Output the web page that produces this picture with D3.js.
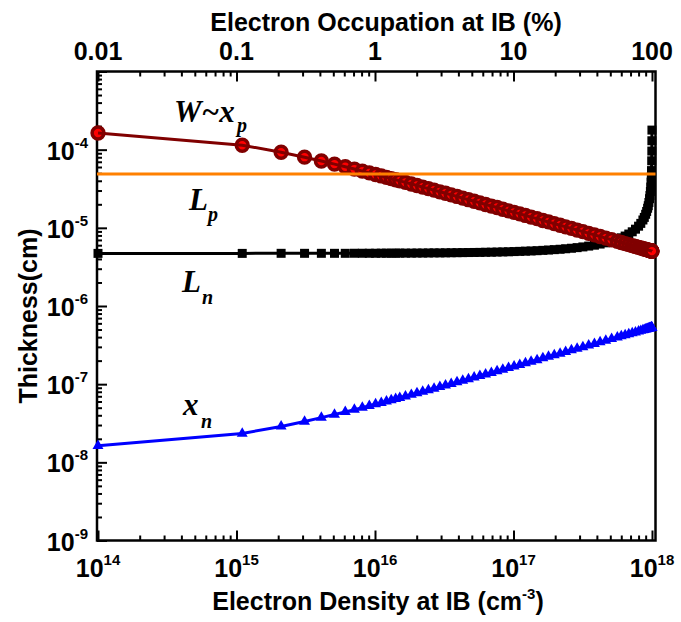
<!DOCTYPE html>
<html>
<head>
<meta charset="utf-8">
<script src="https://cdn.jsdelivr.net/npm/d3@7"></script>
<style>
  body { margin: 0; background: #fff; }
  text { font-family: "Liberation Sans", Arial, sans-serif; font-weight: bold; }
  .lbl { font-family: "Liberation Serif", "Times New Roman", serif; font-style: italic; font-weight: bold; }
</style>
</head>
<body>
<svg id="chart" width="681" height="622"></svg>
<script>
// Electron density at the intermediate band (cm^-3)
const density = [
  1e14, 1.1e15, 2.1e15, 3.1e15, 4.1e15, 5.1e15, 6.1e15, 7.1e15, 8.1e15, 9.1e15,
  1.01e16, 1.11e16, 1.21e16, 1.31e16, 1.41e16, 1.51e16,
  1.66e16, 1.83e16, 2.01e16, 2.21e16, 2.43e16, 2.67e16, 2.94e16, 3.23e16, 3.55e16, 3.91e16,
  4.3e16, 4.73e16, 5.2e16, 5.72e16, 6.29e16, 6.92e16, 7.61e16, 8.37e16, 9.21e16,
  1.01e17, 1.11e17, 1.22e17, 1.34e17, 1.48e17, 1.63e17, 1.79e17, 1.97e17,
  2.17e17, 2.38e17, 2.62e17, 2.88e17, 3.17e17, 3.49e17, 3.84e17, 4.22e17, 4.64e17, 5.11e17, 5.62e17,
  6.0e17, 6.4e17, 6.8e17, 7.2e17, 7.6e17, 8.0e17, 8.3e17, 8.6e17, 8.8e17, 9.0e17,
  9.15e17, 9.3e17, 9.4e17, 9.5e17, 9.6e17, 9.67e17, 9.74e17, 9.8e17, 9.85e17, 9.89e17,
  9.92e17, 9.95e17, 9.97e17, 9.98e17, 9.99e17
];

// Depletion width W ~ x_p (cm)
const widthW = [
  1.633e-4, 1.140e-4, 9.27e-5, 8.01e-5, 7.16e-5, 6.53e-5, 6.04e-5, 5.65e-5, 5.32e-5, 5.05e-5,
  4.81e-5, 4.61e-5, 4.42e-5, 4.26e-5, 4.12e-5, 3.99e-5,
  3.81e-5, 3.64e-5, 3.48e-5, 3.32e-5, 3.17e-5, 3.03e-5, 2.89e-5, 2.77e-5, 2.64e-5, 2.52e-5,
  2.40e-5, 2.29e-5, 2.19e-5, 2.09e-5, 1.99e-5, 1.90e-5, 1.82e-5, 1.73e-5, 1.65e-5,
  1.58e-5, 1.51e-5, 1.44e-5, 1.37e-5, 1.31e-5, 1.24e-5, 1.19e-5, 1.13e-5,
  1.08e-5, 1.03e-5, 9.82e-6, 9.37e-6, 8.93e-6, 8.51e-6, 8.12e-6, 7.74e-6, 7.38e-6, 7.04e-6, 6.71e-6,
  6.49e-6, 6.29e-6, 6.10e-6, 5.93e-6, 5.77e-6, 5.63e-6, 5.52e-6, 5.43e-6, 5.36e-6, 5.30e-6,
  5.26e-6, 5.22e-6, 5.19e-6, 5.16e-6, 5.14e-6, 5.12e-6, 5.10e-6, 5.08e-6, 5.07e-6, 5.06e-6,
  5.05e-6, 5.05e-6, 5.04e-6, 5.04e-6, 5.03e-6
];

// Electron diffusion length L_n (cm)
const lengthLn = [
  4.71e-6, 4.71e-6, 4.72e-6, 4.72e-6, 4.72e-6, 4.72e-6, 4.72e-6, 4.73e-6, 4.73e-6, 4.73e-6,
  4.73e-6, 4.74e-6, 4.74e-6, 4.74e-6, 4.74e-6, 4.75e-6,
  4.75e-6, 4.75e-6, 4.76e-6, 4.76e-6, 4.77e-6, 4.78e-6, 4.78e-6, 4.79e-6, 4.80e-6, 4.81e-6,
  4.82e-6, 4.83e-6, 4.84e-6, 4.85e-6, 4.87e-6, 4.88e-6, 4.90e-6, 4.92e-6, 4.94e-6,
  4.97e-6, 5.00e-6, 5.03e-6, 5.06e-6, 5.10e-6, 5.15e-6, 5.20e-6, 5.26e-6,
  5.32e-6, 5.40e-6, 5.48e-6, 5.58e-6, 5.70e-6, 5.84e-6, 6.00e-6, 6.20e-6, 6.43e-6, 6.74e-6, 7.12e-6,
  7.45e-6, 7.85e-6, 8.33e-6, 8.90e-6, 9.61e-6, 1.05e-5, 1.14e-5, 1.26e-5, 1.36e-5, 1.49e-5,
  1.62e-5, 1.78e-5, 1.92e-5, 2.11e-5, 2.36e-5, 2.59e-5, 2.92e-5, 3.33e-5, 3.85e-5, 4.49e-5,
  5.4e-5, 7.2e-5, 9.6e-5, 1.30e-4, 1.78e-4
];

// n-side depletion depth x_n (cm)
const depthXn = [
  1.63e-8, 2.34e-8, 2.88e-8, 3.33e-8, 3.73e-8, 4.09e-8, 4.42e-8, 4.73e-8, 5.01e-8, 5.29e-8,
  5.55e-8, 5.79e-8, 6.03e-8, 6.26e-8, 6.48e-8, 6.69e-8,
  7.00e-8, 7.33e-8, 7.67e-8, 8.03e-8, 8.41e-8, 8.80e-8, 9.22e-8, 9.65e-8, 1.01e-7, 1.06e-7,
  1.11e-7, 1.16e-7, 1.22e-7, 1.28e-7, 1.34e-7, 1.40e-7, 1.47e-7, 1.54e-7, 1.62e-7,
  1.69e-7, 1.77e-7, 1.86e-7, 1.95e-7, 2.04e-7, 2.15e-7, 2.25e-7, 2.36e-7,
  2.47e-7, 2.59e-7, 2.72e-7, 2.85e-7, 2.99e-7, 3.13e-7, 3.29e-7, 3.45e-7, 3.61e-7, 3.79e-7, 3.98e-7,
  4.11e-7, 4.24e-7, 4.37e-7, 4.50e-7, 4.62e-7, 4.74e-7, 4.83e-7, 4.92e-7, 4.97e-7, 5.03e-7,
  5.07e-7, 5.11e-7, 5.14e-7, 5.17e-7, 5.20e-7, 5.21e-7, 5.23e-7, 5.25e-7, 5.26e-7, 5.27e-7,
  5.28e-7, 5.29e-7, 5.29e-7, 5.30e-7, 5.30e-7
];

// Hole diffusion length L_p (cm), constant
const lengthLp = 4.9e-5;

// Axis ticks
const bottomTicks = [1e14, 1e15, 1e16, 1e17, 1e18];
const bottomExp = ["14", "15", "16", "17", "18"];
const topTicks = [0.01, 0.1, 1, 10, 100];
const topLabels = ["0.01", "0.1", "1", "10", "100"];
const leftTicks = [1e-4, 1e-5, 1e-6, 1e-7, 1e-8, 1e-9];
const leftExp = ["-4", "-5", "-6", "-7", "-8", "-9"];

const svg = d3.select("#chart");
const L = 97, R = 655.5, T = 71.5, B = 540.5;

const x = d3.scaleLog().domain([9.835e13, 1.06e18]).range([L, R]);
// occupation (%) of the 1e18 cm^-3 band states, on the same pixel range
const xTop = d3.scaleLog().domain(x.domain().map(d => d / 1e16)).range([L, R]);
const y = d3.scaleLog().domain([1e-9, 1e-3]).range([B, T]);

// 2..9 multiples of each decade that fall inside a scale's domain
function minorTicks(scale, lo, hi) {
  const [a, b] = d3.extent(scale.domain());
  const out = [];
  for (let e = lo; e <= hi; e++)
    for (let m = 2; m <= 9; m++) {
      const v = m * Math.pow(10, e);
      if (v > a && v < b) out.push(v);
    }
  return out;
}

// inward tick marks drawn with d3 axes
function inward(g) {
  g.select(".domain").remove();
  g.selectAll(".tick line").attr("stroke", "#000").attr("stroke-width", 2);
  g.selectAll(".tick text").remove();
}
const axes = svg.append("g");
axes.append("g").attr("transform", `translate(0,${B})`)
  .call(d3.axisBottom(x).tickValues(minorTicks(x, 14, 17)).tickSizeInner(-5).tickSizeOuter(0)).call(inward);
axes.append("g").attr("transform", `translate(0,${B})`)
  .call(d3.axisBottom(x).tickValues(bottomTicks).tickSizeInner(-10).tickSizeOuter(0)).call(inward);
axes.append("g").attr("transform", `translate(0,${T})`)
  .call(d3.axisTop(xTop).tickValues(minorTicks(xTop, -2, 1)).tickSizeInner(-5).tickSizeOuter(0)).call(inward);
axes.append("g").attr("transform", `translate(0,${T})`)
  .call(d3.axisTop(xTop).tickValues(topTicks).tickSizeInner(-10).tickSizeOuter(0)).call(inward);
axes.append("g").attr("transform", `translate(${L},0)`)
  .call(d3.axisLeft(y).tickValues(minorTicks(y, -9, -4)).tickSizeInner(-5).tickSizeOuter(0)).call(inward);
axes.append("g").attr("transform", `translate(${L},0)`)
  .call(d3.axisLeft(y).tickValues(leftTicks.concat([1e-3])).tickSizeInner(-10).tickSizeOuter(0)).call(inward);

// bottom tick labels
const bl = svg.append("g").selectAll("text").data(bottomTicks).join("text")
  .attr("x", d => x(d)).attr("y", 577).attr("text-anchor", "middle").style("font-size", "25px");
bl.append("tspan").text("10");
bl.append("tspan").attr("dy", -12).style("font-size", "15px").text((d, i) => bottomExp[i]);

// top tick labels
svg.append("g").selectAll("text").data(topTicks).join("text")
  .attr("x", d => xTop(d)).attr("y", 60).attr("text-anchor", "middle")
  .style("font-size", "25px").text((d, i) => topLabels[i]);

// left tick labels
const ll = svg.append("g").selectAll("text").data(leftTicks).join("text")
  .attr("x", L - 9).attr("y", d => y(d) + 10).attr("text-anchor", "end")
  .style("font-size", "25px");
ll.append("tspan").text("10");
ll.append("tspan").attr("dy", -12).style("font-size", "15px").text((d, i) => leftExp[i]);

// frame
svg.append("rect").attr("x", L).attr("y", T).attr("width", R - L).attr("height", B - T)
  .attr("fill", "none").attr("stroke", "#000").attr("stroke-width", 2.5);

// axis titles
const bt = svg.append("text").attr("x", 378).attr("y", 610).attr("text-anchor", "middle")
  .style("font-size", "25px");
bt.append("tspan").text("Electron Density at IB (cm");
bt.append("tspan").attr("dy", -11).style("font-size", "15px").text("-3");
bt.append("tspan").attr("dy", 11).text(")");

svg.append("text").attr("x", 386).attr("y", 31).attr("text-anchor", "middle")
  .style("font-size", "25px").text("Electron Occupation at IB (%)");

svg.append("text").attr("transform", "translate(37,316) rotate(-90)").attr("text-anchor", "middle")
  .style("font-size", "25px").text("Thickness(cm)");

// data series
const plot = svg.append("g");
const pts = (vals) => density.map((d, i) => [d, vals[i]]);
const line = d3.line().x(d => x(d[0])).y(d => y(d[1]));

function series(vals, color, lineW, symbol, size, fill, stroke, strokeW, lineOnTop) {
  const g = plot.append("g");
  const data = pts(vals);
  const drawLine = () => g.append("path").datum(data).attr("d", line)
    .attr("fill", "none").attr("stroke", color).attr("stroke-width", lineW);
  if (!lineOnTop) drawLine();
  g.selectAll("path.m").data(data).join("path").attr("class", "m")
    .attr("transform", d => `translate(${x(d[0])},${y(d[1])})`)
    .attr("d", d3.symbol().type(symbol).size(size))
    .attr("fill", fill).attr("stroke", stroke).attr("stroke-width", strokeW);
  if (lineOnTop) drawLine();
}

series(lengthLn, "#000", 3, d3.symbolSquare, 81, "#000", "none", 0, false);
series(widthW, "#800000", 3, d3.symbolCircle, 110, "#ff0000", "#800000", 3.5, true);
series(depthXn, "#0000ff", 3, d3.symbolTriangle, 52, "#0000ff", "none", 0, false);

// L_p: constant across the whole range
plot.append("path").datum(x.domain().map(d => [d, lengthLp])).attr("d", line)
  .attr("fill", "none").attr("stroke", "#ff8000").attr("stroke-width", 3);

// curve labels
function curveLabel(main, sub, mx, my, sx, sy) {
  svg.append("text").attr("class", "lbl").attr("x", mx).attr("y", my).style("font-size", "31px").text(main);
  svg.append("text").attr("class", "lbl").attr("x", sx).attr("y", sy).style("font-size", "20px").text(sub);
}
curveLabel("W~x", "p", 174, 122, 237, 132);
curveLabel("L", "p", 189, 210, 208, 221);
curveLabel("L", "n", 182, 292, 202, 304);
curveLabel("x", "n", 183, 415, 201, 428);
</script>
</body>
</html>
